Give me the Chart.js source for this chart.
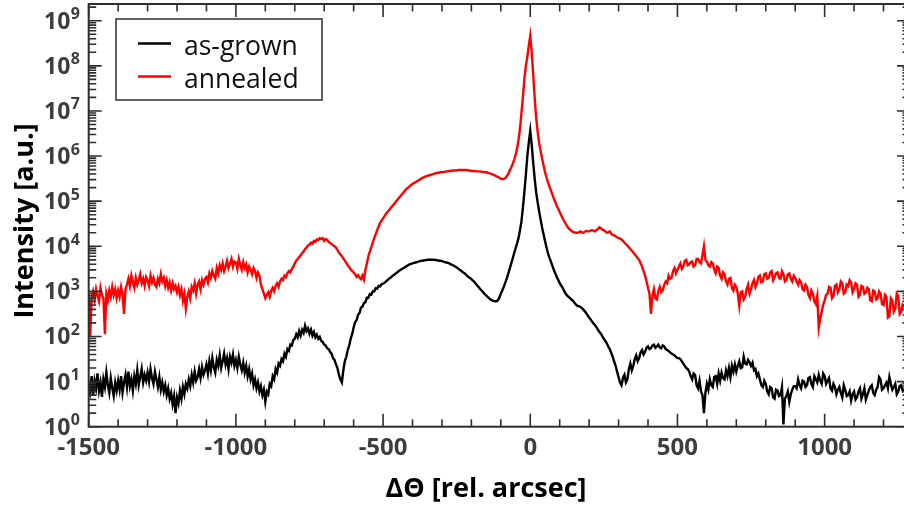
<!DOCTYPE html>
<html>
<head>
<meta charset="utf-8">
<script src="https://cdn.jsdelivr.net/npm/chart.js@4.4.1/dist/chart.umd.min.js"></script>
<style>
  html, body { margin: 0; padding: 0; background: #fff; overflow: hidden; width: 904px; height: 505px; }
  canvas { display: block; }
</style>
</head>
<body>
<canvas id="xrd" width="912" height="505"></canvas>
<script>
// Rocking-curve scan: 5 arcsec steps from -1500 to +1270 arcsec
const thetaStart = -1500;
const thetaStep = 5;
const thetaCount = 555;

// log10 of measured intensity, as-grown sample
const asGrownLog10 = [
  // -1500 .. -1405
  0.95, 0.78, 1.12, 0.70, 1.02, 0.85, 1.18, 0.80, 0.98, 0.66,
  1.05, 0.88, 1.20, 0.92, 0.75, 1.08, 0.86, 0.68, 0.98, 0.80,
  // -1400 .. -1305
  1.02, 0.82, 1.12, 0.76, 0.98, 1.15, 0.88, 1.22, 0.90, 1.05,
  0.80, 1.12, 0.95, 1.25, 0.92, 1.10, 1.28, 0.98, 1.15, 1.02,
  // -1300 .. -1205
  1.20, 1.00, 1.28, 1.08, 0.95, 1.22, 1.05, 0.88, 1.10, 0.82,
  0.98, 0.78, 0.92, 0.70, 0.85, 0.62, 0.75, 0.50, 0.68, 0.30,
  // -1200 .. -1105
  0.65, 0.52, 0.80, 0.62, 0.88, 0.72, 0.95, 0.85, 1.05, 0.90,
  1.15, 0.98, 1.22, 1.02, 1.10, 1.28, 1.08, 1.32, 1.15, 1.25,
  // -1100 .. -1005
  1.38, 1.18, 1.45, 1.25, 1.52, 1.32, 1.20, 1.48, 1.35, 1.58,
  1.30, 1.45, 1.62, 1.38, 1.52, 1.28, 1.55, 1.42, 1.60, 1.35,
  // -1000 .. -905
  1.48, 1.30, 1.55, 1.38, 1.25, 1.42, 1.20, 1.35, 1.12, 1.28,
  1.05, 1.18, 0.92, 1.05, 0.85, 0.98, 0.78, 0.90, 0.70, 0.82,
  // -900 .. -805
  0.55, 0.78, 0.72, 0.95, 0.90, 1.12, 1.05, 1.28, 1.20, 1.40,
  1.35, 1.50, 1.45, 1.62, 1.55, 1.72, 1.68, 1.82, 1.80, 1.92,
  // -800 .. -705
  1.95, 2.05, 1.98, 2.12, 2.02, 2.15, 2.08, 2.24, 2.12, 2.18,
  2.06, 2.15, 2.02, 2.10, 1.98, 2.04, 1.95, 1.99, 1.90, 1.88,
  // -700 .. -605
  1.82, 1.80, 1.74, 1.72, 1.66, 1.62, 1.52, 1.48, 1.38, 1.30,
  1.15, 1.05, 0.98, 1.25, 1.45, 1.55, 1.70, 1.80, 1.95, 2.05,
  // -600 .. -505
  2.20, 2.32, 2.36, 2.48, 2.52, 2.64, 2.66, 2.74, 2.76, 2.86,
  2.86, 2.94, 2.93, 3.00, 3.00, 3.07, 3.06, 3.12, 3.11, 3.16,
  // -500 .. -405
  3.17, 3.19, 3.22, 3.25, 3.28, 3.30, 3.33, 3.36, 3.38, 3.41,
  3.43, 3.46, 3.48, 3.50, 3.52, 3.54, 3.56, 3.58, 3.60, 3.61,
  // -400 .. -305
  3.62, 3.63, 3.64, 3.65, 3.66, 3.67, 3.68, 3.68, 3.69, 3.69,
  3.70, 3.70, 3.70, 3.70, 3.70, 3.70, 3.69, 3.69, 3.68, 3.68,
  // -300 .. -205
  3.67, 3.66, 3.65, 3.64, 3.63, 3.62, 3.60, 3.59, 3.57, 3.55,
  3.53, 3.51, 3.48, 3.46, 3.43, 3.41, 3.38, 3.35, 3.32, 3.30,
  // -200 .. -105
  3.27, 3.24, 3.21, 3.17, 3.13, 3.09, 3.05, 3.02, 2.98, 2.94,
  2.91, 2.88, 2.85, 2.82, 2.80, 2.79, 2.78, 2.78, 2.80, 2.86,
  // -100 .. -5
  2.95, 3.02, 3.10, 3.19, 3.28, 3.39, 3.50, 3.61, 3.72, 3.84,
  3.95, 4.06, 4.18, 4.35, 4.55, 4.85, 5.20, 5.58, 6.00, 6.30,
  // 0
  6.56,
  // 5 .. 100
  6.25, 5.85, 5.50, 5.20, 4.98, 4.78, 4.60, 4.42, 4.27, 4.12,
  3.98, 3.85, 3.75, 3.66, 3.57, 3.48, 3.40, 3.32, 3.25, 3.18,
  // 105 .. 200
  3.13, 3.08, 3.01, 2.95, 2.91, 2.88, 2.85, 2.82, 2.79, 2.75,
  2.71, 2.68, 2.67, 2.66, 2.63, 2.60, 2.56, 2.52, 2.47, 2.42,
  // 205 .. 300
  2.38, 2.33, 2.29, 2.25, 2.20, 2.15, 2.10, 2.06, 2.00, 1.95,
  1.90, 1.85, 1.78, 1.72, 1.64, 1.55, 1.45, 1.35, 1.22, 1.10,
  // 305 .. 400
  0.98, 0.92, 1.08, 1.15, 0.98, 1.05, 1.28, 1.40, 1.25, 1.35,
  1.50, 1.58, 1.45, 1.52, 1.65, 1.70, 1.60, 1.66, 1.75, 1.78,
  // 405 .. 500
  1.72, 1.74, 1.80, 1.82, 1.75, 1.78, 1.82, 1.76, 1.74, 1.80,
  1.78, 1.72, 1.70, 1.68, 1.65, 1.62, 1.60, 1.58, 1.55, 1.52,
  // 505 .. 600
  1.52, 1.50, 1.45, 1.40, 1.35, 1.30, 1.28, 1.22, 1.12, 1.05,
  1.18, 1.15, 0.92, 0.85, 1.02, 0.78, 0.70, 0.30, 0.75, 0.95,
  // 605 .. 700
  0.82, 1.05, 0.92, 0.88, 1.10, 1.12, 0.95, 1.18, 1.02, 1.20,
  1.08, 1.05, 1.25, 1.12, 1.30, 1.10, 1.35, 1.22, 1.38, 1.22,
  // 705 .. 800
  1.35, 1.45, 1.30, 1.32, 1.55, 1.40, 1.38, 1.48, 1.42, 1.35,
  1.42, 1.25, 1.28, 1.12, 1.18, 1.05, 0.92, 0.88, 1.02, 0.95,
  // 805 .. 900
  0.78, 0.72, 0.88, 0.85, 0.65, 0.62, 0.82, 0.80, 0.68, 0.70,
  0.88, 0.05, 0.62, 0.68, 0.78, 0.55, 0.72, 0.82, 0.90, 0.90,
  // 905 .. 1000
  0.85, 1.05, 0.92, 0.85, 1.02, 1.00, 0.88, 0.92, 1.08, 1.10,
  0.95, 0.88, 1.12, 1.05, 0.98, 1.15, 1.02, 0.95, 1.18, 1.12,
  // 1005 .. 1100
  0.95, 1.02, 1.08, 0.85, 0.80, 0.95, 0.88, 0.72, 0.82, 0.88,
  0.75, 0.65, 0.92, 0.82, 0.68, 0.70, 0.78, 0.58, 0.72, 0.78,
  // 1105 .. 1200
  0.60, 0.65, 0.78, 0.85, 0.62, 0.72, 0.85, 0.60, 0.70, 0.80,
  0.88, 0.92, 0.75, 0.70, 0.82, 0.88, 1.10, 1.05, 0.82, 0.85,
  // 1205 .. 1270
  0.92, 0.98, 0.85, 1.10, 0.95, 0.82, 0.88, 0.95, 0.72, 0.78,
  0.90, 0.92, 0.80, 0.85
];

// log10 of measured intensity, annealed sample
const annealedLog10 = [
  // -1500 .. -1405
  2.95, 2.00, 2.85, 3.00, 2.82, 3.05, 2.90, 2.78, 3.08, 2.92,
  2.85, 2.05, 2.95, 2.80, 3.02, 2.88, 3.10, 2.92, 3.05, 2.85,
  // -1400 .. -1305
  3.02, 2.88, 3.10, 2.95, 2.50, 3.05, 3.15, 3.28, 3.12, 3.35,
  3.20, 3.08, 3.30, 3.15, 3.25, 3.38, 3.18, 3.28, 3.12, 3.32,
  // -1300 .. -1205
  3.25, 3.12, 3.35, 3.20, 3.30, 3.15, 3.10, 3.28, 3.18, 3.38,
  3.22, 3.30, 3.12, 3.25, 3.08, 3.20, 3.02, 3.18, 3.05, 3.12,
  // -1200 .. -1105
  2.98, 3.10, 2.92, 3.05, 2.80, 2.95, 2.62, 2.88, 3.00, 2.85,
  3.10, 3.02, 3.18, 2.95, 3.15, 3.22, 3.05, 3.25, 3.15, 3.28,
  // -1100 .. -1005
  3.32, 3.20, 3.40, 3.30, 3.45, 3.35, 3.28, 3.52, 3.40, 3.58,
  3.48, 3.62, 3.45, 3.55, 3.68, 3.52, 3.62, 3.72, 3.55, 3.66,
  // -1000 .. -905
  3.64, 3.50, 3.72, 3.58, 3.48, 3.65, 3.52, 3.60, 3.42, 3.55,
  3.48, 3.38, 3.52, 3.45, 3.30, 3.42, 3.35, 3.15, 3.05, 2.95,
  // -900 .. -805
  2.85, 2.92, 2.98, 2.88, 3.02, 3.08, 3.00, 3.12, 3.18, 3.10,
  3.22, 3.28, 3.25, 3.35, 3.32, 3.40, 3.45, 3.42, 3.50, 3.55,
  // -800 .. -705
  3.62, 3.68, 3.72, 3.76, 3.80, 3.85, 3.88, 3.94, 3.97, 4.02,
  4.04, 4.08, 4.06, 4.12, 4.10, 4.15, 4.14, 4.18, 4.16, 4.18,
  // -700 .. -605
  4.12, 4.16, 4.14, 4.10, 4.08, 4.05, 4.02, 4.00, 3.97, 3.92,
  3.86, 3.82, 3.78, 3.73, 3.68, 3.63, 3.58, 3.54, 3.49, 3.45,
  // -600 .. -505
  3.42, 3.38, 3.32, 3.36, 3.30, 3.27, 3.35, 3.26, 3.48, 3.62,
  3.78, 3.88, 3.98, 4.08, 4.18, 4.27, 4.36, 4.44, 4.52, 4.57,
  // -500 .. -405
  4.62, 4.67, 4.72, 4.76, 4.80, 4.84, 4.88, 4.92, 4.96, 5.00,
  5.04, 5.08, 5.12, 5.16, 5.20, 5.24, 5.27, 5.30, 5.33, 5.36,
  // -400 .. -305
  5.38, 5.40, 5.42, 5.44, 5.46, 5.48, 5.50, 5.52, 5.53, 5.55,
  5.56, 5.57, 5.58, 5.59, 5.60, 5.61, 5.62, 5.63, 5.63, 5.64,
  // -300 .. -205
  5.64, 5.65, 5.65, 5.66, 5.66, 5.67, 5.67, 5.68, 5.68, 5.68,
  5.68, 5.69, 5.69, 5.69, 5.69, 5.69, 5.69, 5.69, 5.68, 5.68,
  // -200 .. -105
  5.67, 5.67, 5.67, 5.66, 5.66, 5.66, 5.66, 5.65, 5.65, 5.64,
  5.64, 5.63, 5.62, 5.61, 5.60, 5.58, 5.57, 5.55, 5.54, 5.52,
  // -100 .. -5
  5.50, 5.49, 5.49, 5.51, 5.55, 5.60, 5.68, 5.74, 5.82, 5.91,
  6.02, 6.16, 6.35, 6.60, 6.95, 7.30, 7.70, 8.00, 8.20, 8.45,
  // 0
  8.67,
  // 5 .. 100
  8.30, 7.80, 7.30, 6.85, 6.55, 6.30, 6.12, 5.95, 5.80, 5.65,
  5.53, 5.42, 5.33, 5.24, 5.15, 5.06, 4.98, 4.90, 4.83, 4.76,
  // 105 .. 200
  4.69, 4.62, 4.56, 4.50, 4.45, 4.40, 4.37, 4.34, 4.32, 4.31,
  4.30, 4.30, 4.31, 4.33, 4.31, 4.30, 4.32, 4.34, 4.33, 4.33,
  // 205 .. 300
  4.35, 4.36, 4.34, 4.33, 4.36, 4.38, 4.42, 4.40, 4.37, 4.36,
  4.33, 4.30, 4.31, 4.33, 4.28, 4.25, 4.24, 4.22, 4.20, 4.18,
  // 305 .. 400
  4.17, 4.15, 4.12, 4.08, 4.05, 4.02, 3.98, 3.94, 3.90, 3.86,
  3.82, 3.78, 3.74, 3.70, 3.62, 3.55, 3.45, 3.35, 3.22, 3.08,
  // 405 .. 500
  2.95, 2.50, 2.90, 3.05, 2.85, 2.82, 3.00, 3.10, 2.98, 3.02,
  3.15, 3.22, 3.18, 3.35, 3.28, 3.30, 3.45, 3.52, 3.40, 3.48,
  // 505 .. 600
  3.55, 3.62, 3.50, 3.55, 3.68, 3.70, 3.58, 3.60, 3.65, 3.66,
  3.55, 3.58, 3.72, 3.72, 3.65, 3.62, 3.80, 4.00, 3.70, 3.66,
  // 605 .. 700
  3.58, 3.55, 3.65, 3.62, 3.48, 3.40, 3.55, 3.52, 3.35, 3.28,
  3.42, 3.38, 3.22, 3.15, 3.28, 3.30, 3.08, 3.02, 3.15, 3.10,
  // 705 .. 800
  2.95, 2.68, 2.98, 3.00, 2.82, 2.88, 3.05, 3.15, 2.95, 3.05,
  3.18, 3.25, 3.10, 3.18, 3.32, 3.35, 3.20, 3.22, 3.38, 3.40,
  // 805 .. 900
  3.28, 3.30, 3.42, 3.45, 3.25, 3.32, 3.40, 3.42, 3.30, 3.28,
  3.45, 3.38, 3.22, 3.25, 3.38, 3.40, 3.28, 3.22, 3.35, 3.30,
  // 905 .. 1000
  3.22, 3.15, 3.25, 3.20, 3.05, 3.02, 3.15, 3.10, 2.92, 2.85,
  3.02, 2.95, 2.78, 2.72, 2.90, 2.20, 2.40, 2.55, 2.70, 2.80,
  // 1005 .. 1100
  2.92, 2.95, 3.10, 3.08, 2.85, 2.90, 3.12, 3.15, 2.98, 3.05,
  3.22, 3.18, 2.95, 2.98, 3.15, 3.12, 3.25, 3.20, 2.98, 3.05,
  // 1105 .. 1200
  3.18, 3.15, 2.88, 2.92, 3.12, 3.10, 2.95, 2.98, 3.08, 3.05,
  2.80, 2.78, 3.02, 3.00, 2.82, 2.85, 3.00, 2.95, 2.72, 2.70,
  // 1205 .. 1270
  2.92, 2.88, 2.42, 2.45, 2.85, 2.80, 2.55, 2.62, 2.95, 2.90,
  2.50, 2.55, 2.70, 2.65
];

const seriesNames = ['as-grown', 'annealed'];
const seriesColors = ['#000000', '#ff0000'];

// Axis ticks
const xTickLabels = [-1500, -1000, -500, 0, 500, 1000];
const xMinorStep = 100;
const yDecades = [0, 1, 2, 3, 4, 5, 6, 7, 8, 9];

const theta = Array.from({ length: thetaCount }, (_, i) => thetaStart + thetaStep * i);
const toPoints = (logs) => logs.map((v, i) => ({ x: theta[i], y: Math.pow(10, v) }));

const LABEL_GREY = '#3d3d3d';
const FRAME = '#2e2e2e';
const FONT = '"Open Sans", "DejaVu Sans", sans-serif';

const framePlugin = {
  id: 'frameAndLabels',
  afterDraw(chart) {
    const { ctx, chartArea: a, scales: { x, y } } = chart;
    ctx.save();

    // plot frame
    ctx.strokeStyle = FRAME;
    ctx.lineWidth = 2;
    ctx.strokeRect(a.left, a.top, a.right - a.left, a.bottom - a.top);

    // x ticks (inward, bottom and top)
    ctx.lineWidth = 1.6;
    ctx.beginPath();
    for (let v = x.min; v <= x.max; v += xMinorStep) {
      const px = x.getPixelForValue(v);
      const len = xTickLabels.includes(v) ? 13 : 7.5;
      ctx.moveTo(px, a.bottom); ctx.lineTo(px, a.bottom - len);
      ctx.moveTo(px, a.top); ctx.lineTo(px, a.top + len);
    }
    // y ticks (log: majors at decades, minors at 2..9)
    yDecades.forEach((d) => {
      for (let m = 1; m <= 9; m++) {
        const val = m * Math.pow(10, d);
        if (val > y.max) break;
        const py = y.getPixelForValue(val);
        const len = m === 1 ? 13 : 7.5;
        ctx.moveTo(a.left, py); ctx.lineTo(a.left + len, py);
        ctx.moveTo(a.right, py); ctx.lineTo(a.right - len, py);
      }
    });
    ctx.stroke();

    // x tick labels
    ctx.fillStyle = LABEL_GREY;
    ctx.font = 'bold 24px ' + FONT;
    ctx.textAlign = 'center';
    ctx.textBaseline = 'alphabetic';
    xTickLabels.forEach((v) => {
      ctx.fillText(String(v), x.getPixelForValue(v), 455);
    });

    // y tick labels 10^n
    const labelRight = 80;
    yDecades.forEach((d) => {
      const py = y.getPixelForValue(Math.pow(10, d));
      ctx.textAlign = 'right';
      ctx.font = 'bold 16px ' + FONT;
      const exp = String(d);
      const ew = ctx.measureText(exp).width;
      ctx.fillText(exp, labelRight, py - 1.5);
      ctx.font = 'bold 23px ' + FONT;
      ctx.fillText('10', labelRight - ew - 0.5, py + 8);
    });

    // axis titles
    ctx.fillStyle = '#000';
    ctx.font = 'bold 27px ' + FONT;
    ctx.textAlign = 'center';
    ctx.fillText('\u0394\u0398 [rel. arcsec]', 486, 497);
    ctx.save();
    ctx.translate(33, 221);
    ctx.rotate(-Math.PI / 2);
    ctx.fillText('Intensity [a.u.]', 0, 0);
    ctx.restore();

    // legend box
    ctx.fillStyle = '#fff';
    ctx.fillRect(116, 19, 206, 81);
    ctx.strokeStyle = FRAME;
    ctx.lineWidth = 1.5;
    ctx.strokeRect(116, 19, 206, 81);
    ctx.font = '26.5px ' + FONT;
    ctx.textAlign = 'left';
    chart.data.datasets.forEach((ds, i) => {
      const ly = 43.5 + i * 33;
      ctx.strokeStyle = ds.borderColor;
      ctx.lineWidth = 2.5;
      ctx.beginPath();
      ctx.moveTo(138, ly); ctx.lineTo(171, ly);
      ctx.stroke();
      ctx.fillStyle = '#111';
      ctx.fillText(ds.label, 184, ly + 11);
    });

    ctx.restore();
  }
};

new Chart(document.getElementById('xrd'), {
  type: 'line',
  data: {
    datasets: [
      { label: seriesNames[0], data: toPoints(asGrownLog10), borderColor: seriesColors[0] },
      { label: seriesNames[1], data: toPoints(annealedLog10), borderColor: seriesColors[1] }
    ]
  },
  options: {
    responsive: false,
    animation: false,
    events: [],
    layout: { padding: { left: 0, right: 2, top: 4, bottom: 0 } },
    elements: {
      line: { borderWidth: 2.4, tension: 0, borderJoinStyle: 'miter' },
      point: { radius: 0 }
    },
    plugins: { legend: { display: false }, tooltip: { enabled: false } },
    scales: {
      x: {
        type: 'linear', min: -1500, max: 1290,
        grid: { display: false }, border: { display: false },
        ticks: { display: false },
        afterFit(s) { s.height = 78.3; }
      },
      y: {
        type: 'logarithmic', min: 1, max: 2.35e9,
        grid: { display: false }, border: { display: false },
        ticks: { display: false },
        afterFit(s) { s.width = 88.7; }
      }
    }
  },
  plugins: [framePlugin]
});
</script>
</body>
</html>
